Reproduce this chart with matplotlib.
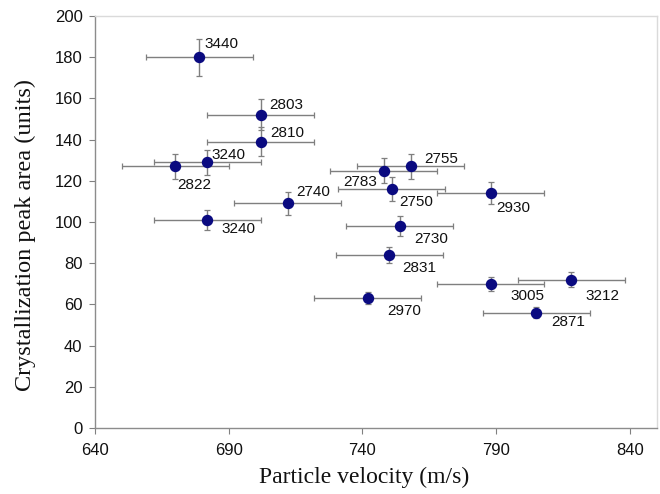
import matplotlib
matplotlib.use("Agg")
import matplotlib.pyplot as plt

# Data
velocity = [679, 702, 702, 682, 670, 712, 682, 748, 758, 751, 788, 754, 750, 788, 818, 742, 805]
peak_area = [180, 152, 139, 129, 127, 109, 101, 125, 127, 116, 114, 98, 84, 70, 72, 63, 56]
velocity_err = [20] * 17
area_err = [9, 7.5, 7, 6, 6, 5.5, 5, 6, 6, 6, 5.5, 5, 4, 3.5, 3.5, 3, 2.5]
labels = ["3440", "2803", "2810", "3240", "2822", "2740", "3240", "2783", "2755",
          "2750", "2930", "2730", "2831", "3005", "3212", "2970", "2871"]
# label offsets (pixels) from each point
label_dx = [5, 8, 9, 4, 2, 9, 14, -41, 14, 7, 5, 14, 13, 20, 14, 19, 15]
label_dy = [13, 10, 9, 7, -19, 11, -9, -11, 7, -13, -15, -13, -13, -12, -16, -13, -9]

x_ticks = [640, 690, 740, 790, 840]
y_ticks = list(range(0, 201, 20))

fig = plt.figure(figsize=(6.6, 4.94), dpi=100)
ax = fig.add_axes([0.144, 0.1336, 0.851, 0.834])

ax.errorbar(velocity, peak_area, xerr=velocity_err, yerr=area_err, fmt='o',
            color='#0a0a80', markersize=7.2, ecolor='#7f7f7f', elinewidth=1.0,
            capsize=2, capthick=0.9, zorder=3)

for x, y, t, dx, dy in zip(velocity, peak_area, labels, label_dx, label_dy):
    ax.annotate(t, (x, y), xytext=(dx, dy), textcoords='offset pixels',
                ha='left', va='center', fontsize=11, family='Liberation Sans',
                color='#111111')

ax.set_xlim(640, 850)
ax.set_ylim(0, 200)
ax.set_xticks(x_ticks)
ax.set_yticks(y_ticks)
for lab in ax.get_xticklabels() + ax.get_yticklabels():
    lab.set_family('Liberation Sans')
    lab.set_fontsize(12)
    lab.set_color('#111111')
ax.tick_params(axis='both', direction='out', length=4, width=0.8, color='#808080')
ax.tick_params(axis='x', pad=7)
ax.tick_params(axis='y', pad=5)

ax.spines['left'].set_color('#8c8c8c')
ax.spines['bottom'].set_color('#8c8c8c')
ax.spines['top'].set_color('#dadada')
ax.spines['right'].set_color('#dadada')
for s in ax.spines.values():
    s.set_linewidth(1.0)

ax.set_xlabel('Particle velocity (m/s)', family='Liberation Serif', fontsize=17,
              color='#111111')
ax.set_ylabel('Crystallization peak area (units)', family='Liberation Serif',
              fontsize=17.5, color='#111111')
ax.xaxis.set_label_coords((364.5 - 95) / 562, -0.095)
ax.yaxis.set_label_coords((36 - 95) / 562, (428 - 235) / 412)

fig.savefig('out.png', dpi=100)
